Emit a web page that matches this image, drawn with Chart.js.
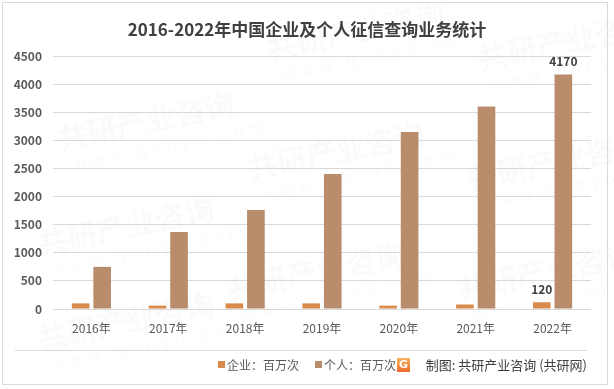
<!DOCTYPE html>
<html>
<head>
<meta charset="utf-8">
<script src="https://cdn.jsdelivr.net/npm/chart.js@4"></script>
<style>
  html, body { margin: 0; padding: 0; background: #fff; }
  #wrap { width: 614px; height: 389px; position: relative; }
</style>
</head>
<body>
<div id="wrap"><canvas id="chart" width="614" height="389"></canvas></div>
<script>
const years = ['2016年', '2017年', '2018年', '2019年', '2020年', '2021年', '2022年'];
const enterprise = [100, 60, 100, 100, 60, 80, 120];
const personal = [750, 1370, 1760, 2400, 3150, 3600, 4170];
const yTicks = [0, 500, 1000, 1500, 2000, 2500, 3000, 3500, 4000, 4500];

const titleText = '2016-2022年中国企业及个人征信查询业务统计';
const sourceText = '制图: 共研产业咨询 (共研网)';
const cjk = '"Noto Sans CJK SC", "Noto Sans", sans-serif';

// frame, watermark, title, legend row and source line
const decor = {
  id: 'decor',
  beforeDraw(chart) {
    const ctx = chart.ctx;
    ctx.save();
    ctx.fillStyle = '#fff';
    ctx.fillRect(0, 0, chart.width, chart.height);
    // faint watermark tiles
    const spots = [[60, 150], [40, 255], [40, 350], [270, 60], [250, 180], [230, 300], [480, 70], [470, 190], [460, 300]];
    ctx.textAlign = 'left';
    ctx.textBaseline = 'alphabetic';
    spots.forEach(([x, y]) => {
      ctx.save();
      ctx.translate(x, y);
      ctx.rotate(-0.2);
      ctx.fillStyle = 'rgba(0,0,0,0.02)';
      ctx.font = 'bold 30px ' + cjk;
      ctx.fillText('共研产业咨询', 0, 0);
      ctx.font = '16px "DejaVu Sans", sans-serif';
      ctx.fillText('w w w . g o n y n . c o m', 10, 22);
      ctx.restore();
    });
    ctx.restore();
  },
  afterDraw(chart) {
    const ctx = chart.ctx;
    ctx.save();
    ctx.strokeStyle = '#D9D9D9';
    ctx.lineWidth = 1;
    ctx.strokeRect(2.5, 2.5, 605, 382);
    ctx.beginPath();
    ctx.moveTo(15, 350.5);
    ctx.lineTo(587, 350.5);
    ctx.stroke();

    ctx.fillStyle = '#404040';
    ctx.font = 'bold 17px ' + cjk;
    ctx.textAlign = 'center';
    ctx.textBaseline = 'middle';
    ctx.fillText(titleText, 307, 30);

    // legend
    ctx.font = '12px ' + cjk;
    ctx.textAlign = 'left';
    const items = chart.data.datasets;
    let x = 218;
    items.forEach(ds => {
      ctx.fillStyle = ds.backgroundColor;
      ctx.fillRect(x, 361, 7, 7);
      ctx.fillStyle = '#595959';
      ctx.fillText(ds.label, x + 9, 365);
      x += 9 + ctx.measureText(ds.label).width + 16;
    });

    // logo
    const lx = 397, ly = 358;
    const g = ctx.createLinearGradient(lx, ly, lx, ly + 14);
    g.addColorStop(0, '#F7B35B');
    g.addColorStop(1, '#EE6B2E');
    ctx.fillStyle = g;
    ctx.fillRect(lx, ly, 13, 14);
    ctx.fillStyle = '#fff';
    ctx.font = 'bold 11px "DejaVu Sans", sans-serif';
    ctx.textAlign = 'center';
    ctx.fillText('G', lx + 6.5, ly + 7.5);

    ctx.fillStyle = '#404040';
    ctx.font = '13px ' + cjk;
    ctx.textAlign = 'right';
    ctx.fillText(sourceText, 587, 365);
    ctx.restore();
  }
};

// value labels on the last year only
const lastLabels = {
  id: 'lastLabels',
  afterDatasetsDraw(chart) {
    const ctx = chart.ctx;
    ctx.save();
    ctx.fillStyle = '#404040';
    ctx.font = 'bold 12px ' + cjk;
    ctx.textAlign = 'center';
    ctx.textBaseline = 'middle';
    chart.data.datasets.forEach((ds, i) => {
      const meta = chart.getDatasetMeta(i);
      const idx = ds.data.length - 1;
      const bar = meta.data[idx];
      ctx.fillText(String(ds.data[idx]), bar.x, bar.y - 13);
    });
    ctx.restore();
  }
};

new Chart(document.getElementById('chart'), {
  type: 'bar',
  data: {
    labels: years,
    datasets: [{
      label: '企业：百万次',
      data: enterprise,
      backgroundColor: '#D88B4B',
      categoryPercentage: 0.56,
      barPercentage: 0.82
    }, {
      label: '个人：百万次',
      data: personal,
      backgroundColor: '#B98C6C',
      categoryPercentage: 0.56,
      barPercentage: 0.82
    }]
  },
  options: {
    responsive: false,
    animation: false,
    layout: { padding: { top: 56, left: 0, right: 23, bottom: 50 } },
    plugins: {
      legend: { display: false },
      title: { display: false },
      tooltip: { enabled: false }
    },
    scales: {
      x: {
        grid: { display: false, drawTicks: false },
        border: { display: false },
        ticks: { color: '#595959', font: { family: cjk, size: 12 }, padding: 12 },
        afterFit(s) { s.height = 30; }
      },
      y: {
        min: 0,
        max: 4500,
        afterBuildTicks(s) { s.ticks = yTicks.map(v => ({ value: v })); },
        grid: { color: '#D9D9D9', drawTicks: false },
        border: { display: false },
        ticks: {
          color: '#595959',
          font: { family: cjk, size: 12, weight: 'bold' },
          padding: 11,
          callback: v => String(v)
        },
        afterFit(s) { s.width = 53; }
      }
    }
  },
  plugins: [decor, lastLabels]
});
</script>
</body>
</html>
